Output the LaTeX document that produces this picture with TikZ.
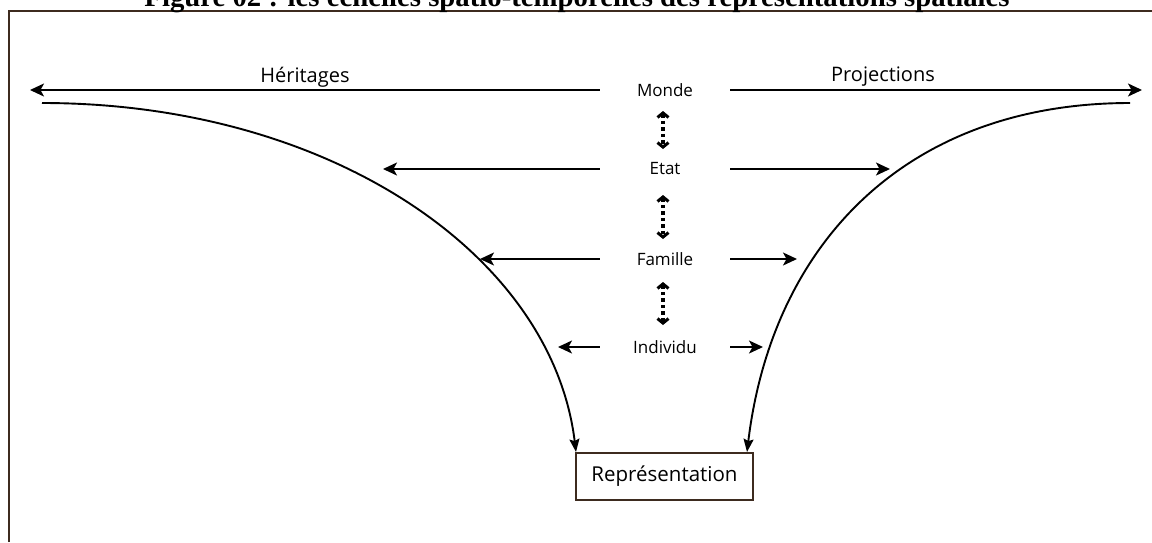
\documentclass[tikz,border=0pt]{standalone}
\usepackage{fontspec}
\usetikzlibrary{arrows.meta,calc}
\newfontfamily\labfont{Open Sans}
\newfontfamily\titlefont{Liberation Serif}
\definecolor{framebrown}{HTML}{3D2B1F}
\tikzset{
  lab/.style={font=\labfont\fontsize{17}{20}\selectfont, inner sep=0pt, minimum width=130pt, minimum height=14pt, anchor=center},
  big/.style={font=\labfont\fontsize{20}{24}\selectfont, inner sep=0pt},
  harrow/.style={line width=1.7pt, -{Stealth[length=14pt,width=13pt,inset=3.5pt]}},
  curvearrow/.style={line width=1.9pt, -{Stealth[length=13pt,width=10pt,inset=2pt]}},
  dotarrow/.style={line width=3.2pt, dash pattern=on 3.5pt off 3pt, {Straight Barb[length=4.5pt,width=11pt,line width=3pt]}-{Straight Barb[length=4.5pt,width=11pt,line width=3pt]}},
  repbox/.style={draw=framebrown, line width=2pt, minimum width=177pt, minimum height=47pt, inner sep=0pt, font=\labfont\fontsize{20.5}{24}\selectfont}
}
\begin{document}
\begin{tikzpicture}[x=1pt,y=-1pt]
\useasboundingbox (0,0) rectangle (1152,542);
\clip (0,0) rectangle (1152,542);
\fill[white] (0,0) rectangle (1152,542);
% frame (only top and left visible)
\draw[framebrown, line width=2pt] (8.5,542) -- (8.5,11) -- (1152,11);
% title
\node[anchor=base, inner sep=0pt] (title) at (577,6) {\resizebox{865pt}{!}{\titlefont\bfseries Figure 02 : les échelles spatio-temporelles des représentations spatiales}};
% level labels
\node[lab] (monde) at (665,90) {Monde};
\node[lab] (etat) at (665,169) {Etat};
\node[lab] (famille) at (665,259) {Famille};
\node[lab] (individu) at (665,347) {Individu};
\node[big] (herit) at (305,77) {Héritages};
\node[big] (proj) at (883,77) {Projections};
\node[repbox] (rep) at (664.5,476.5) {Représentation};
% arrow end points
\coordinate (mL) at (30,90);
\coordinate (mR) at (1142,90);
\coordinate (eL) at (383,169);
\coordinate (eR) at (890,169);
\coordinate (fL) at (480,259);
\coordinate (fR) at (797,259);
\coordinate (iL) at (558,347);
\coordinate (iR) at (763,347);
\coordinate (cL) at (42,103);
\coordinate (cR) at (1130,103);
% horizontal arrows
\draw[harrow] (monde.west) -- (mL);
\draw[harrow] (monde.east) -- (mR);
\draw[harrow] (etat.west) -- (eL);
\draw[harrow] (etat.east) -- (eR);
\draw[harrow] (famille.west) -- (fL);
\draw[harrow] (famille.east) -- (fR);
\draw[harrow] (individu.west) -- (iL);
\draw[harrow] (individu.east) -- (iR);
% curves
\draw[curvearrow] (cL) .. controls (330,103) and (552,255) .. ($(rep.north west)+(1,0)$);
\draw[curvearrow] (cR) .. controls (905,103) and (772,245) .. ($(rep.north east)+(-7,0)$);
% dotted double arrows
\draw[dotarrow] ($(monde)+(-2,21)$) -- ($(etat)+(-2,-20)$);
\draw[dotarrow] ($(etat)+(-2,26)$) -- ($(famille)+(-2,-20)$);
\draw[dotarrow] ($(famille)+(-2,23)$) -- ($(individu)+(-2,-22)$);
\end{tikzpicture}
\end{document}
